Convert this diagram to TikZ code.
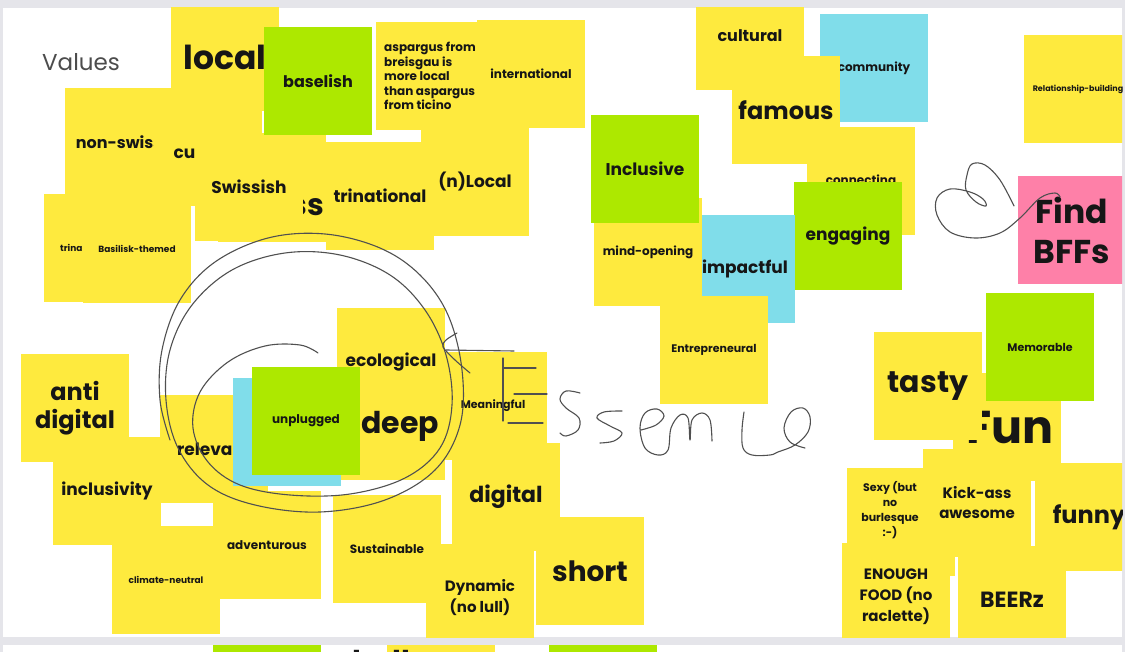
\documentclass[tikz,border=0pt]{standalone}
\usepackage{fontspec}
\setmainfont{Poppins}
\usetikzlibrary{calc}
\definecolor{stickyYellow}{RGB}{254,234,62}
\definecolor{stickyGreen}{RGB}{173,232,0}
\definecolor{stickyBlue}{RGB}{128,221,234}
\definecolor{stickyPink}{RGB}{254,128,168}
\definecolor{boardFrame}{RGB}{229,229,234}
\definecolor{penGrey}{RGB}{80,80,80}
\definecolor{inkBlack}{RGB}{22,22,22}
\tikzset{
  vNote/.style={minimum width=108, minimum height=108, inner sep=0pt, outer sep=0pt},
  vTxt/.style 2 args={inner sep=0pt, align=center, text=inkBlack, font=\fontsize{#1}{#2}\selectfont\bfseries},
  vPen/.style={draw=penGrey, line width=1.1, line cap=round, line join=round},
}
\newcommand{\vSticky}[6]{%
  \node[vNote, fill=#1] (#2) at #3 {};
  \node[vTxt=#4, #5] at (#2) {#6};
}

\begin{document}
\begin{tikzpicture}[x=1pt,y=-1pt]
\useasboundingbox (0,0) rectangle (1125,652);
\fill[boardFrame] (0,0) rectangle (1125,652);
\fill[white] (3,8) rectangle (1122,637);
\fill[white] (3,645) rectangle (1122,652);
\node[anchor=west, inner sep=0pt, text=black!70, font=\fontsize{23}{23}\selectfont] (values) at (42,62) {Values};
\begin{scope}
\clip (3,8) rectangle (1122,637);
\vSticky{stickyYellow}{local}{(225,57)}{{33}{33}}{}{local}
\vSticky{stickyYellow}{nonswiss}{(119,142)}{{16}{16}}{}{non-swiss}
\vSticky{stickyYellow}{cultur}{(208,152)}{{17}{17}}{}{cultural}
\vSticky{stickyYellow}{bigss}{(272,188)}{{30}{30}}{xshift=35, yshift=-19}{ss}
\vSticky{stickyYellow}{swissish}{(249,187)}{{17}{17}}{}{Swissish}
\vSticky{stickyYellow}{trinaleft}{(98,248)}{{9}{9}}{anchor=west, xshift=-38}{trina}
\vSticky{stickyYellow}{basilisk}{(137,249)}{{9}{9}}{}{Basilisk-themed}
\vSticky{stickyGreen}{baselish}{(318,81)}{{16}{16}}{}{baselish}
\vSticky{stickyYellow}{aspargus}{(430,76)}{{12}{14.5}}{align=left}{aspargus from\\breisgau is\\more local\\than aspargus\\from ticino}
\vSticky{stickyYellow}{internat}{(531,74)}{{12}{12}}{}{international}
\vSticky{stickyYellow}{nlocal}{(475,182)}{{17}{17}}{}{(n)Local}
\vSticky{stickyYellow}{trinational}{(380,196)}{{17}{17}}{}{trinational}
\vSticky{stickyYellow}{cultural}{(750,36)}{{16}{16}}{}{cultural}
\vSticky{stickyBlue}{community}{(874,68)}{{12}{12}}{}{community}
\vSticky{stickyYellow}{famous}{(786,110)}{{24}{24}}{}{famous}
\vSticky{stickyYellow}{connecting}{(861,181)}{{12}{12}}{}{connecting}
\vSticky{stickyGreen}{engaging}{(848,236)}{{17}{17}}{}{engaging}
\vSticky{stickyYellow}{relation}{(1078,89)}{{8}{8}}{}{Relationship-building}
\vSticky{stickyPink}{findbffs}{(1072,230)}{{33}{40}}{}{Find\\BFFs}
\vSticky{stickyBlue}{impactful}{(741,269)}{{17}{17}}{xshift=4}{impactful}
\vSticky{stickyYellow}{mindopen}{(648,252)}{{12}{12}}{}{mind-opening}
\vSticky{stickyGreen}{inclusive}{(645,169)}{{17}{17}}{}{Inclusive}
\vSticky{stickyYellow}{entre}{(714,350)}{{11}{11}}{}{Entrepreneural}
\vSticky{stickyYellow}{antidigital}{(75,408)}{{24}{28}}{}{anti\\digital}
\vSticky{stickyYellow}{relevant}{(214,449)}{{17}{17}}{}{relevant}
\vSticky{stickyYellow}{inclusivity}{(107,491)}{{17}{17}}{}{inclusivity}
\vSticky{stickyYellow}{climate}{(166,580)}{{9}{9}}{}{climate-neutral}
\vSticky{stickyYellow}{adventurous}{(267,545)}{{12}{12}}{}{adventurous}
\vSticky{stickyYellow}{sustainable}{(387,549)}{{12}{12}}{}{Sustainable}
\vSticky{stickyYellow}{ecological}{(391,362)}{{17}{17}}{}{ecological}
\vSticky{stickyYellow}{deep}{(391,426)}{{30}{30}}{xshift=9}{deep}
\vSticky{stickyBlue}{cyan}{(287,432)}{{12}{12}}{}{}
\vSticky{stickyGreen}{unplugged}{(306,421)}{{12}{12}}{}{unplugged}
\vSticky{stickyYellow}{digital}{(506,497)}{{22}{22}}{}{digital}
\vSticky{stickyYellow}{meaningful}{(493,406)}{{11}{11}}{}{Meaningful}
\vSticky{stickyYellow}{dynamic}{(480,598)}{{15}{21}}{}{Dynamic\\(no lull)}
\vSticky{stickyYellow}{short}{(590,571)}{{28}{28}}{}{short}
\vSticky{stickyYellow}{fun}{(1007,427)}{{46}{46}}{xshift=3}{Fun}
\vSticky{stickyYellow}{tasty}{(928,386)}{{30}{30}}{}{tasty}
\vSticky{stickyGreen}{memorable}{(1040,347)}{{11}{11}}{}{Memorable}
\vSticky{stickyYellow}{sexy}{(901,522)}{{11}{15}}{xshift=-11, yshift=12}{Sexy (but\\no\\burlesque\\:-)}
\vSticky{stickyYellow}{funny}{(1089,517)}{{24}{24}}{}{funny}
\vSticky{stickyYellow}{kickass}{(977,503)}{{15}{20}}{}{Kick-ass\\awesome}
\vSticky{stickyYellow}{enough}{(896,597)}{{15}{21}}{}{ENOUGH\\FOOD (no\\raclette)}
\vSticky{stickyYellow}{beerz}{(1012,600)}{{22}{22}}{}{BEERz}
\draw[vPen] plot[smooth, tension=0.6] coordinates {(318,353) (300,345) (265,346) (228,362) (200,392) (193,428) (208,462) (240,485) (290,495) (350,494) (405,478) (440,448) (452,405) (446,355) (425,310) (390,275) (340,255) (285,253) (232,270) (192,305) (170,350) (166,400) (178,448) (208,485) (255,505) (320,512) (385,500) (435,470) (460,425) (462,370) (448,315) (420,275) (380,248) (325,234) (268,238) (215,262) (180,300) (162,350) (160,400) (170,440)};
\draw[vPen] (514,351) -- (446,350);
\draw[vPen] plot[smooth, tension=0.5] coordinates {(457,333) (446,340) (443,347) (455,360) (470,373)};
\draw[vPen] (503,358) -- (503,421);
\draw[vPen] (503,368) -- (536,368);
\draw[vPen] (514,394) -- (547,394);
\draw[vPen] (508,423) -- (543,423);
\draw[vPen] plot[smooth, tension=0.6] coordinates {(580,393) (566,391) (560,399) (566,408) (579,418) (578,430) (566,436) (560,433)};
\draw[vPen] plot[smooth, tension=0.6] coordinates {(622,411) (604,412) (597,418) (610,426) (622,433) (614,441) (600,443)};
\draw[vPen] plot[smooth, tension=0.6] coordinates {(641,430) (656,425) (664,416) (657,409) (645,413) (640,428) (645,448) (658,455) (668,450) (671,428) (680,415) (688,418) (690,440) (692,420) (702,413) (710,420) (712,441)};
\draw[vPen] plot[smooth, tension=0.6] coordinates {(744,412) (742,430) (743,448) (752,455) (770,455) (778,452) (795,445) (808,432) (810,417) (803,408) (791,412) (784,428) (790,442) (805,448)};
\draw[vPen] plot[smooth, tension=0.6] coordinates {(1014,206) (1000,180) (985,165) (972,164) (967,175) (966,190) (976,202) (986,206) (983,199) (970,192) (950,189) (937,198) (937,215) (950,232) (975,238) (1000,233) (1020,218) (1040,198) (1055,193) (1060,197)};
\end{scope}
\begin{scope}
\clip (3,645) rectangle (1122,652);
\node[vNote, fill=stickyGreen] (nextgreena) at (267,699) {};
\node[vNote, fill=stickyYellow] (nextyellow) at (441,699) {};
\node[vTxt={30}{30}, anchor=north west] at (352,650) {bull};
\node[vNote, fill=stickyGreen] (nextgreenb) at (603,699) {};
\end{scope}
\end{tikzpicture}
\end{document}
